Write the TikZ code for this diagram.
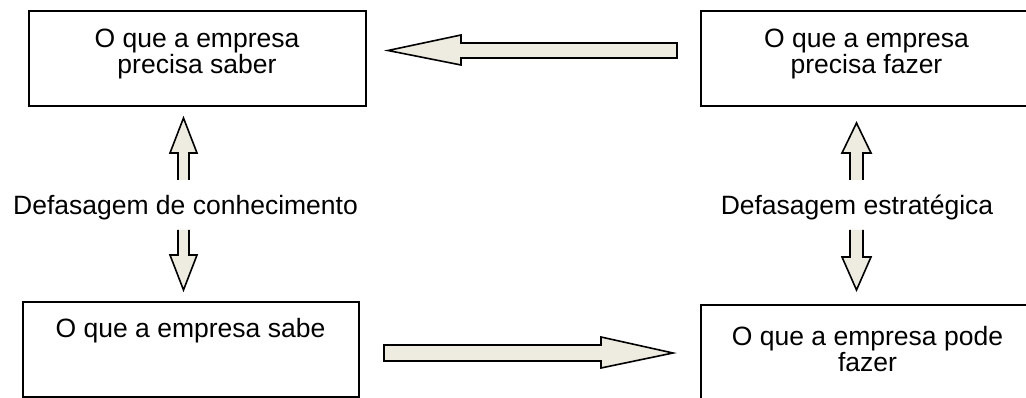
\documentclass[tikz,border=0pt]{standalone}
\usepackage{fontspec}
\setmainfont{Liberation Sans}
\begin{document}
\begin{tikzpicture}[x=1pt,y=-1pt,
  box/.style={draw=black, line width=2pt, fill=white, rectangle, inner sep=0pt},
  txt/.style={font=\fontsize{26.5}{26.5}\selectfont, align=center, inner sep=0pt, text=black},
  barrow/.style={draw=black, line width=1.6pt, fill=arrowfill, line join=miter}
]
\definecolor{arrowfill}{HTML}{EEECE1}
\useasboundingbox (0,0) rectangle (1026,398);
\clip (0,0) rectangle (1026,398);
\fill[white] (0,0) rectangle (1026,398);

% boxes
\node[box, minimum width=337pt, minimum height=95pt] (tl) at (197,59) {};
\node[box, minimum width=331pt, minimum height=95pt] (tr) at (866.5,59) {};
\node[box, minimum width=336.5pt, minimum height=94.5pt] (bl) at (190.75,349.25) {};
\node[box, minimum width=331pt, minimum height=105pt] (br) at (866.5,357.5) {};

% box texts
\node[txt, anchor=north] (tltext) at (197,28.7) {O que a empresa\\precisa saber};
\node[txt, anchor=north] (trtext) at (866.5,28.7) {O que a empresa\\precisa fazer};
\node[txt, anchor=north] (bltext) at (190.5,317.7) {O que a empresa sabe};
\node[txt, anchor=north] (brtext) at (867.5,325.7) {O que a empresa pode\\fazer};

% horizontal block arrows
\path[barrow] (677,43) -- (461,43) -- (461,35) -- (388,50.5) -- (461,65) -- (461,58) -- (677,58) -- cycle;
\path[barrow] (384,345) -- (601,345) -- (601,337) -- (673,353) -- (601,368) -- (601,361) -- (384,361) -- cycle;

% vertical block arrows (left)
\path[barrow] (178,180) -- (178,153) -- (170,153) -- (183.5,118) -- (197,153) -- (189,153) -- (189,180);
\path[barrow] (178,230) -- (178,255) -- (170,255) -- (183.5,290) -- (197,255) -- (189,255) -- (189,230);
% vertical block arrows (right)
\path[barrow] (850,180) -- (850,153) -- (842,153) -- (856.5,123) -- (871,153) -- (863,153) -- (863,180);
\path[barrow] (850,230) -- (850,257) -- (842,257) -- (856.5,290) -- (871,257) -- (863,257) -- (863,230);

% labels
\node[txt, anchor=base] (gapk) at (185.5,215) {Defasagem de conhecimento};
\node[txt, anchor=base] (gaps) at (857,215) {Defasagem estratégica};
\end{tikzpicture}
\end{document}
